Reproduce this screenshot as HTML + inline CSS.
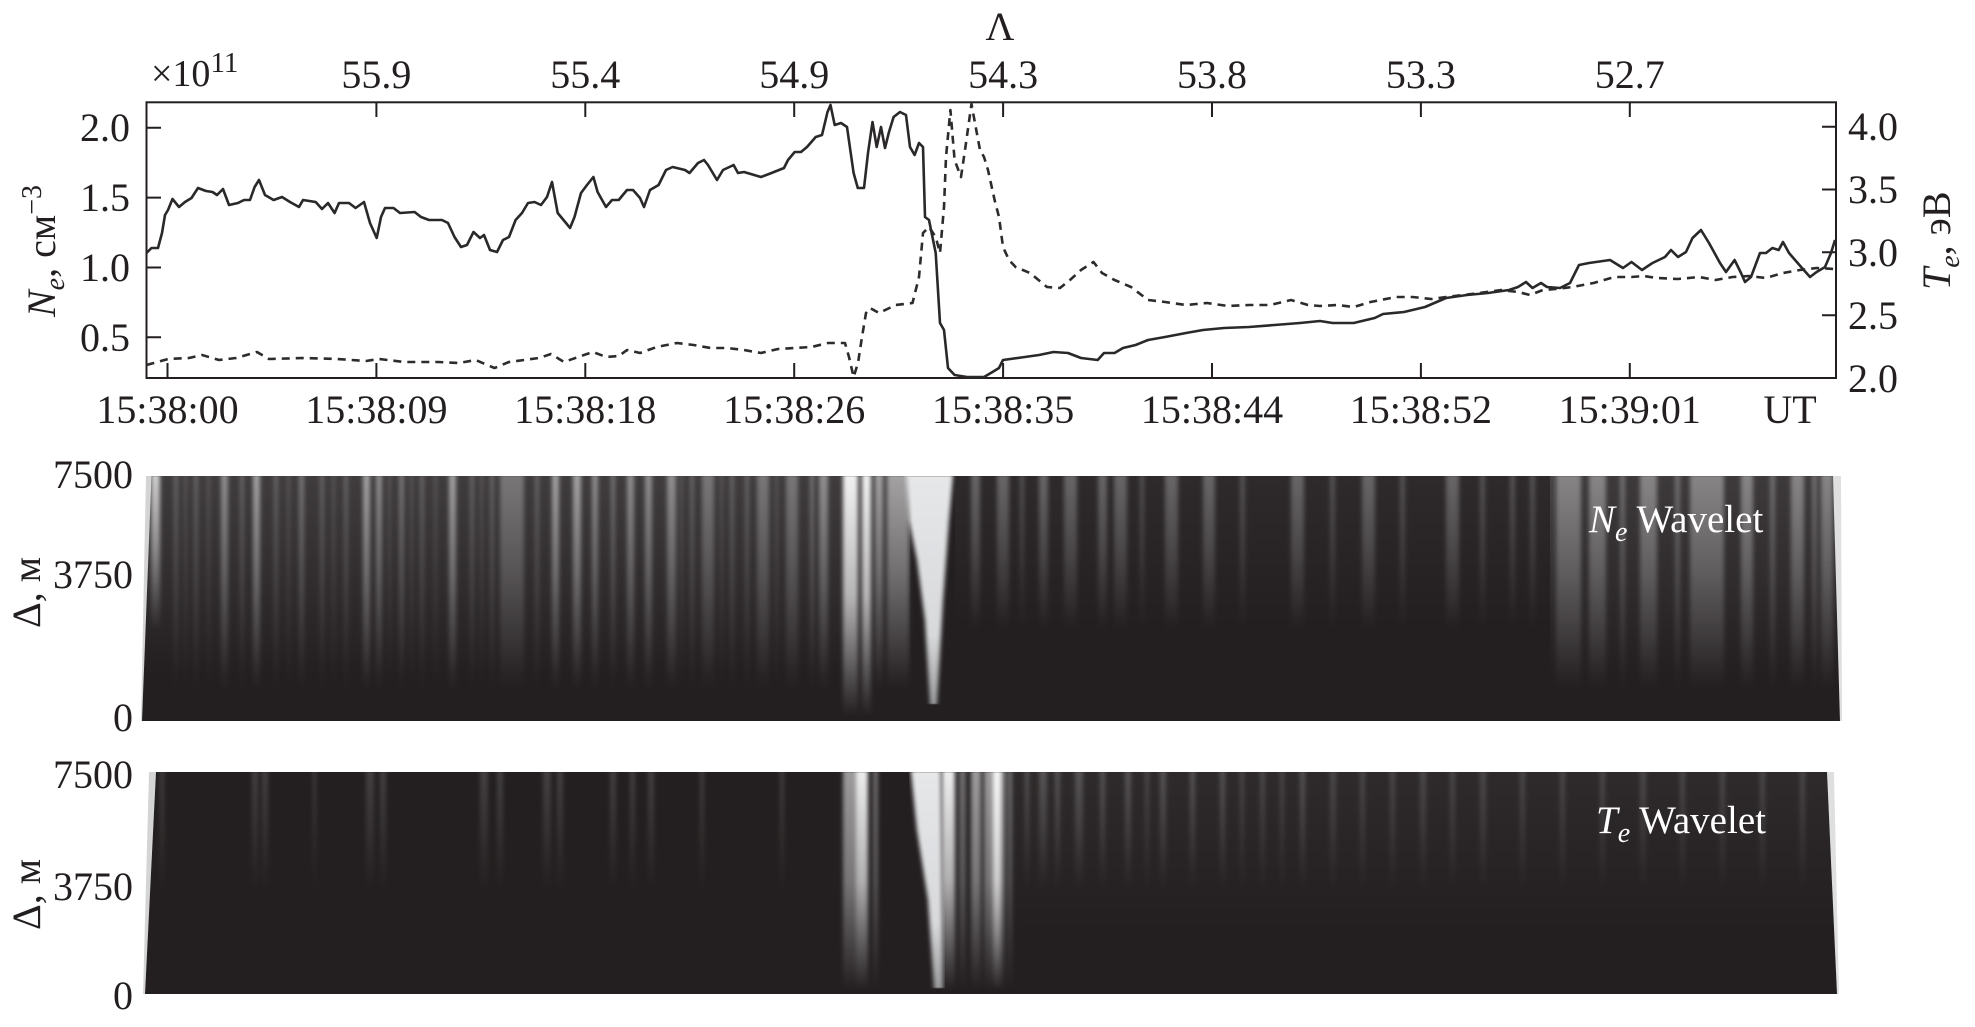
<!DOCTYPE html>
<html>
<head>
<meta charset="utf-8">
<style>
html,body{margin:0;padding:0;background:#fff;}
svg{display:block;}
text{font-family:"Liberation Serif","DejaVu Serif",serif;fill:#231f20;}
</style>
</head>
<body>
<svg width="1975" height="1027" viewBox="0 0 1975 1027" xmlns="http://www.w3.org/2000/svg">
<defs>
  <linearGradient id="P1" gradientUnits="userSpaceOnUse" x1="0" y1="476" x2="0" y2="690">
    <stop offset="0" stop-color="#fff" stop-opacity="1"/><stop offset="0.45" stop-color="#fff" stop-opacity="0.6"/><stop offset="1" stop-color="#fff" stop-opacity="0"/>
  </linearGradient>
  <linearGradient id="P1s" gradientUnits="userSpaceOnUse" x1="0" y1="476" x2="0" y2="630">
    <stop offset="0" stop-color="#fff" stop-opacity="1"/><stop offset="0.45" stop-color="#fff" stop-opacity="0.6"/><stop offset="1" stop-color="#fff" stop-opacity="0"/>
  </linearGradient>
  <linearGradient id="P1b" gradientUnits="userSpaceOnUse" x1="0" y1="476" x2="0" y2="716">
    <stop offset="0" stop-color="#fff" stop-opacity="1"/><stop offset="0.5" stop-color="#fff" stop-opacity="0.7"/><stop offset="1" stop-color="#fff" stop-opacity="0"/>
  </linearGradient>
  <linearGradient id="P2" gradientUnits="userSpaceOnUse" x1="0" y1="772" x2="0" y2="890">
    <stop offset="0" stop-color="#fff" stop-opacity="1"/><stop offset="0.45" stop-color="#fff" stop-opacity="0.6"/><stop offset="1" stop-color="#fff" stop-opacity="0"/>
  </linearGradient>
  <linearGradient id="P2b" gradientUnits="userSpaceOnUse" x1="0" y1="772" x2="0" y2="990">
    <stop offset="0" stop-color="#fff" stop-opacity="1"/><stop offset="0.5" stop-color="#fff" stop-opacity="0.7"/><stop offset="1" stop-color="#fff" stop-opacity="0"/>
  </linearGradient>
  <linearGradient id="hz" x1="0" y1="0" x2="0" y2="1">
    <stop offset="0" stop-color="#fff" stop-opacity="1"/><stop offset="1" stop-color="#fff" stop-opacity="0"/>
  </linearGradient>
  <linearGradient id="vw" x1="0" y1="0" x2="0" y2="1">
    <stop offset="0" stop-color="#e6e7e9"/><stop offset="0.7" stop-color="#d8d9db"/><stop offset="1" stop-color="#9a9a9c"/>
  </linearGradient>
  <filter id="bl" x="-0.05" y="-0.05" width="1.1" height="1.1">
    <feGaussianBlur stdDeviation="2 0.5"/>
  </filter>
  <clipPath id="c1"><polygon points="151.5,476 1833,476 1840,721 142,721"/></clipPath>
  <clipPath id="c2"><polygon points="156,772 1827,772 1837,994 145,994"/></clipPath>
</defs>

<!-- TOP PLOT -->
<g fill="none" stroke="#231f20" stroke-width="2">
  <rect x="146.5" y="102.3" width="1689.5" height="275.7"/>
  <path d="M146.5 127.7H161M146.5 197.6H161M146.5 267.5H161M146.5 337.3H161"/>
  <path d="M1836 126.7H1822M1836 189.5H1822M1836 252.3H1822M1836 315.2H1822"/>
  <path d="M167.5 378V363M376.4 378V363M585.3 378V363M794.2 378V363M1003.1 378V363M1212 378V363M1420.9 378V363M1629.8 378V363"/>
  <path d="M376.4 102.3V117M585.3 102.3V117M794.2 102.3V117M1003.1 102.3V117M1212 102.3V117M1420.9 102.3V117M1629.8 102.3V117"/>
</g>

<polyline fill="none" stroke="#2e2b2c" stroke-width="2.6" stroke-dasharray="8 6" stroke-linejoin="round"
points="146.5,365 168,359 189,358 202,355 219,360 236,358 257,352 269,359 303,358 337,359 366,361 379,359 404,362 438,362 459,363 475.6,360 494.5,368 509,362 539,358 551,354 564,362 581,356 593,352 606,357 619,356 627,350 640,353 656.6,347 677,343 693.7,345 710.5,348 727,348 744,350 761,353 778,349 794.7,348 811.5,347 828,343 845,343 849,357 853.6,377 858,363 862,337 866,313 870,308 879,313 895.7,305 912.5,303 919,277 923,233 929,227 935.7,237 940,253 944,207 946,157 950.4,110 954.6,160 961,177 965,150 971.5,104 975.7,127 980,150 984,157 988,170 994.6,200 999,217 1003,247 1009,260 1015.6,267 1030,273 1047,287 1060,288 1070,280 1081,270 1093.5,262 1102,273 1114.5,280 1131,287 1148,300 1165,302 1186,305 1207,303 1228,306 1249,305 1270,305 1291,300 1308,305 1320,306 1337,305 1353.7,307 1370.5,302 1396,297 1412.6,297 1431.5,299 1446,297 1463,295 1480,293 1501,290 1518,292 1530,295 1543,290 1555.7,289 1572.5,287 1593.6,283 1614.6,277 1631.5,277 1644,276 1656.7,278 1678,279 1699,277 1715.6,280 1732.5,277 1749,276 1766,278 1783,273 1800,270 1816.6,268 1835,269"/>

<polyline fill="none" stroke="#2b2829" stroke-width="2.6" stroke-linejoin="round"
points="146.5,253 151.5,248 158,248 162,233 165,215 168,210 172.5,199 179,207 185,202 191.5,198 198,188 206,191 212.5,192 217,195 223,189 229,205 238,203 244,200 250,200 254.6,187 259,180 265,195 273.6,200 282,197 290,202 299,207 303,200 315.7,202 322,209 328,203 334.6,213 339,203 349,203 355.6,208 364,202 370,223 376.7,238 381,217 385,208 393.5,208 400,213 414.6,212 421,217 429,220 442,220 448,223 454.5,237 461,247 467,245 473.5,232 480,238 484,235 490,250 497,252 503,240 509,237 515.6,220 522,213 528,203 534.5,202 541,205 547,197 552,182 557.7,213 566,223 570,228 574.5,217 581,193 587,185 593.4,177 597.6,192 606,207 612,200 618.7,200 627,190 633,190 640,198 644,207 650,190 658.6,185 666,170 672.6,167 685,170 689.5,173 698,163 704,160 708,165 717,180 723,170 733.6,165 738,173 744,172 761,177 771.5,173 784,168 788,160 794.7,152 801,152 807,147 815.7,137 822,135 827.5,112 830.5,105 834.7,125 841,123 847,127 853.6,173 857.8,188 864,188 868,153 872.5,122 876.7,147 881,127 885,148 889,132 893.6,117 900,112 906,115 910,147 914.6,155 919,143 923,147 925,217 929,220 935.7,253 940,323 944,330 948,368 954.6,375 967,377 973.5,377 984,377 992.5,372 999,368 1003,360 1017.7,358 1039,355 1053.5,352 1068,353 1081,358 1097.7,360 1104,353 1114.5,353 1123,348 1135.6,345 1148,340 1165,337 1186,333 1203,330 1224,328 1249,327 1274.5,325 1300,323 1320,321 1332.6,323 1353.7,323 1362,321 1374.7,318 1383,314 1404,312 1425,307 1446,298 1467,295 1488,293 1509,290 1518,287 1526,282 1532.5,288 1541,283 1547,287 1560,288 1570,283 1579,265 1589,263 1610,260 1623,268 1631.5,262 1642,270 1652.5,263 1665,257 1671,250 1678,257 1686,252 1692.5,238 1701,230 1709,243 1720,263 1726,272 1734.6,260 1741,273 1745,282 1751,277 1760,253 1766,253 1772.4,248 1778.7,250 1783,242 1789,253 1802,268 1810,277 1816.6,272 1825,267 1831,253 1835,240"/>

<g font-size="40">
  <text x="1000" y="40" text-anchor="middle">Λ</text>
  <text x="376.4" y="88" text-anchor="middle">55.9</text>
  <text x="585.3" y="88" text-anchor="middle">55.4</text>
  <text x="794.2" y="88" text-anchor="middle">54.9</text>
  <text x="1003.1" y="88" text-anchor="middle">54.3</text>
  <text x="1212" y="88" text-anchor="middle">53.8</text>
  <text x="1420.9" y="88" text-anchor="middle">53.3</text>
  <text x="1629.8" y="88" text-anchor="middle">52.7</text>
  <text x="130" y="141" text-anchor="end">2.0</text>
  <text x="130" y="211" text-anchor="end">1.5</text>
  <text x="130" y="281" text-anchor="end">1.0</text>
  <text x="130" y="351" text-anchor="end">0.5</text>
  <text x="1848" y="140">4.0</text>
  <text x="1848" y="203">3.5</text>
  <text x="1848" y="266">3.0</text>
  <text x="1848" y="329">2.5</text>
  <text x="1848" y="392">2.0</text>
  <text x="167.5" y="423" text-anchor="middle">15:38:00</text>
  <text x="376.4" y="423" text-anchor="middle">15:38:09</text>
  <text x="585.3" y="423" text-anchor="middle">15:38:18</text>
  <text x="794.2" y="423" text-anchor="middle">15:38:26</text>
  <text x="1003.1" y="423" text-anchor="middle">15:38:35</text>
  <text x="1212" y="423" text-anchor="middle">15:38:44</text>
  <text x="1420.9" y="423" text-anchor="middle">15:38:52</text>
  <text x="1629.8" y="423" text-anchor="middle">15:39:01</text>
  <text x="1790" y="423" text-anchor="middle">UT</text>
</g>
<text x="151" y="86" font-size="38">×10<tspan font-size="29" dy="-14">11</tspan></text>

<text transform="rotate(-90 55 317)" x="55" y="317" font-size="40"><tspan font-style="italic">N</tspan><tspan font-style="italic" font-size="28" dy="9">e</tspan><tspan dy="-9">, см</tspan><tspan font-size="28" dy="-14">−3</tspan></text>
<text transform="rotate(-90 1950 290)" x="1950" y="290" font-size="40"><tspan font-style="italic">T</tspan><tspan font-style="italic" font-size="28" dy="9">e</tspan><tspan dy="-9">, эВ</tspan></text>

<!-- WAVELET 1 -->
<polygon points="146,476 152,476 143,721 141,721" fill="#c9c9cb" opacity="0.8"/>
<polygon points="1833,476 1841,476 1842,721 1840,721" fill="#c9c9cb" opacity="0.6"/>
<g clip-path="url(#c1)">
  <rect x="140" y="476" width="1702" height="245" fill="#231f20"/>
  <rect x="140" y="476" width="770" height="200" fill="url(#hz)" opacity="0.13"/>
  <rect x="955" y="476" width="600" height="150" fill="url(#hz)" opacity="0.05"/>
  <rect x="1550" y="476" width="292" height="200" fill="url(#hz)" opacity="0.12"/>
  <g filter="url(#bl)">
    <path fill="url(#P1s)" opacity="0.75" d="M151 476h9V721h-9z"/>
    <path fill="url(#P1)" opacity="0.15" d="M184 476h3V721h-3zM207 476h3V721h-3zM287 476h3V721h-3zM332 476h3V721h-3zM388 476h3V721h-3zM410 476h3V721h-3zM434 476h3V721h-3zM480 476h3V721h-3zM680 476h3V721h-3zM720 476h3V721h-3zM775 476h3V721h-3z"/>
    <path fill="url(#P1)" opacity="0.22" d="M174 476h4V721h-4zM194 476h4V721h-4zM240 476h4V721h-4zM274 476h4V721h-4zM320 476h4V721h-4zM344 476h4V721h-4zM420 476h4V721h-4zM470 476h4V721h-4zM490 476h4V721h-4zM535 476h4V721h-4zM690 476h4V721h-4zM730 476h4V721h-4zM745 476h4V721h-4z"/>
    <path fill="url(#P1)" opacity="0.3" d="M299 476h5V721h-5zM399 476h5V721h-5zM500 476h24V721h-24zM611 476h4V721h-4zM702 476h12V721h-12zM757 476h12V721h-12zM786 476h12V721h-12zM810 476h4V721h-4z"/>
    <path fill="url(#P1)" opacity="0.42" d="M221 476h7V721h-7zM376 476h6V721h-6zM592 476h6V721h-6zM627 476h7V721h-7zM645 476h7V721h-7zM667 476h9V721h-9zM819 476h9V721h-9z"/>
    <path fill="url(#P1)" opacity="0.52" d="M253 476h7V721h-7zM363 476h7V721h-7zM449 476h7V721h-7zM552 476h7V721h-7zM573 476h8V721h-8zM875 476h8V721h-8zM887 476h14V721h-14zM901 476h8V721h-8z"/>
    <path fill="url(#P1b)" opacity="0.93" d="M843 476h15V721h-15zM862 476h9V721h-9z"/>
    <path fill="url(#P1s)" opacity="0.2" d="M1020 476h4V721h-4zM1140 476h4V721h-4zM1240 476h5V721h-5zM1330 476h5V721h-5zM1400 476h5V721h-5zM1480 476h5V721h-5zM1510 476h5V721h-5zM1530 476h5V721h-5z"/>
    <path fill="url(#P1s)" opacity="0.28" d="M971 476h9V721h-9zM997 476h12V721h-12zM1039 476h9V721h-9zM1064 476h13V721h-13zM1098 476h9V721h-9zM1114 476h13V721h-13zM1165 476h13V721h-13zM1203 476h12V721h-12zM1291 476h13V721h-13zM1362 476h13V721h-13zM1446 476h13V721h-13z"/>
    <path fill="url(#P1)" opacity="0.28" d="M1620 476h5V721h-5zM1675 476h5V721h-5zM1770 476h5V721h-5zM1812 476h5V721h-5z"/>
    <path fill="url(#P1)" opacity="0.38" d="M1556 476h25V721h-25zM1589 476h17V721h-17zM1640 476h17V721h-17zM1690 476h34V721h-34zM1741 476h12V721h-12zM1791 476h13V721h-13zM1821 476h12V721h-12z"/>
  </g>
  <polygon filter="url(#bl)" points="906,476 953,476 949,520 943,600 937,704 930,704 925,620 917,560 909,520" fill="url(#vw)"/>
</g>
<text x="1589" y="532" font-size="39" style="fill:#ffffff"><tspan font-style="italic">N</tspan><tspan font-style="italic" font-size="28" dy="9">e</tspan><tspan dy="-9"> Wavelet</tspan></text>

<!-- WAVELET 2 -->
<polygon points="149,772 156,772 145,994 143,994" fill="#c9c9cb" opacity="0.8"/>
<polygon points="1827,772 1834,772 1839,994 1837,994" fill="#c9c9cb" opacity="0.6"/>
<g clip-path="url(#c2)">
  <rect x="140" y="772" width="1702" height="222" fill="#231f20"/>
  <rect x="1005" y="772" width="830" height="160" fill="url(#hz)" opacity="0.05"/>
  <g filter="url(#bl)">
    <path fill="url(#P2)" opacity="0.15" d="M160 772h4V994h-4zM252 772h6V994h-6zM262 772h6V994h-6zM313 772h3V994h-3zM366 772h8V994h-8zM380 772h6V994h-6zM480 772h8V994h-8zM497 772h6V994h-6zM543 772h8V994h-8zM557 772h6V994h-6zM610 772h6V994h-6zM630 772h5V994h-5zM648 772h6V994h-6zM700 772h4V994h-4zM780 772h4V994h-4zM1145 772h4V994h-4zM1240 772h4V994h-4zM1260 772h5V994h-5zM1280 772h4V994h-4zM1330 772h6V994h-6zM1360 772h5V994h-5zM1390 772h5V994h-5zM1420 772h6V994h-6zM1450 772h5V994h-5zM1480 772h6V994h-6zM1520 772h5V994h-5zM1560 772h5V994h-5zM1600 772h5V994h-5zM1640 772h6V994h-6zM1680 772h5V994h-5zM1720 772h5V994h-5zM1760 772h5V994h-5zM1800 772h5V994h-5z"/>
    <path fill="url(#P2)" opacity="0.2" d="M1025 772h4V994h-4zM1039 772h8V994h-8zM1055 772h5V994h-5zM1075 772h8V994h-8zM1100 772h5V994h-5zM1125 772h6V994h-6zM1160 772h6V994h-6zM1190 772h5V994h-5zM1220 772h5V994h-5zM1300 772h5V994h-5z"/>
    <path fill="url(#P2b)" opacity="0.35" d="M873 772h5V994h-5zM959 772h7V994h-7zM1008 772h4V994h-4z"/>
    <path fill="url(#P2b)" opacity="0.55" d="M843 772h13V994h-13zM971 772h10V994h-10zM984 772h21V994h-21z"/>
    <path fill="url(#P2b)" opacity="0.92" d="M856 772h12V994h-12zM942 772h13V994h-13zM993 772h8V994h-8z"/>
  </g>
  <polygon filter="url(#bl)" points="911,772 941,772 943,988 934,988 928,900 917,830" fill="url(#vw)"/>
</g>
<text x="1596" y="833" font-size="39" style="fill:#ffffff"><tspan font-style="italic">T</tspan><tspan font-style="italic" font-size="28" dy="9">e</tspan><tspan dy="-9"> Wavelet</tspan></text>

<g font-size="40">
  <text x="133" y="488" text-anchor="end">7500</text>
  <text x="133" y="588" text-anchor="end">3750</text>
  <text x="133" y="731" text-anchor="end">0</text>
  <text x="133" y="788" text-anchor="end">7500</text>
  <text x="133" y="900" text-anchor="end">3750</text>
  <text x="133" y="1009" text-anchor="end">0</text>
  <text transform="rotate(-90 40 628)" x="40" y="628">Δ, м</text>
  <text transform="rotate(-90 40 930)" x="40" y="930">Δ, м</text>
</g>
</svg>
</body>
</html>
